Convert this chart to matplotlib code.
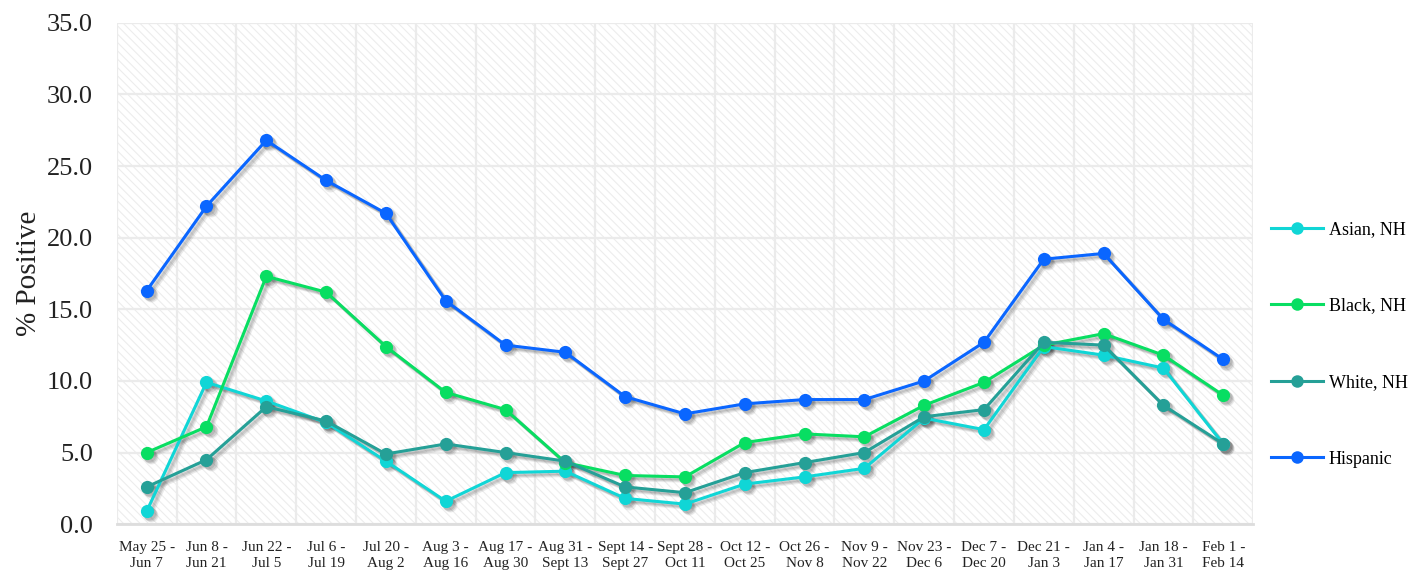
import matplotlib
matplotlib.use("Agg")
import matplotlib.pyplot as plt
import matplotlib.transforms as mtransforms
from matplotlib.patches import Rectangle
import numpy as np

periods = ['May 25 -\nJun 7', 'Jun 8 -\nJun 21', 'Jun 22 -\nJul 5', 'Jul 6 -\nJul 19',
           'Jul 20 -\nAug 2', 'Aug 3 -\nAug 16', 'Aug 17 -\nAug 30', 'Aug 31 -\nSept 13',
           'Sept 14 -\nSept 27', 'Sept 28 -\nOct 11', 'Oct 12 -\nOct 25', 'Oct 26 -\nNov 8',
           'Nov 9 -\nNov 22', 'Nov 23 -\nDec 6', 'Dec 7 -\nDec 20', 'Dec 21 -\nJan 3',
           'Jan 4 -\nJan 17', 'Jan 18 -\nJan 31', 'Feb 1 -\nFeb 14']

asian = [0.9, 9.9, 8.6, 7.1, 4.4, 1.6, 3.6, 3.7, 1.8, 1.4, 2.8, 3.3, 3.9,
         7.4, 6.6, 12.4, 11.8, 10.9, 5.6]
black = [5.0, 6.8, 17.3, 16.2, 12.4, 9.2, 8.0, 4.3, 3.4, 3.3, 5.7, 6.3, 6.1,
         8.3, 9.9, 12.5, 13.3, 11.8, 9.0]
white = [2.6, 4.5, 8.2, 7.2, 4.9, 5.6, 5.0, 4.4, 2.6, 2.2, 3.6, 4.3, 5.0,
         7.5, 8.0, 12.7, 12.5, 8.3, 5.6]
hispanic = [16.3, 22.2, 26.8, 24.0, 21.7, 15.6, 12.5, 12.0, 8.9, 7.7, 8.4, 8.7, 8.7,
            10.0, 12.7, 18.5, 18.9, 14.3, 11.5]

series = [('Asian, NH', asian, '#10D6D6'),
          ('Black, NH', black, '#08DE62'),
          ('White, NH', white, '#25A097'),
          ('Hispanic', hispanic, '#0A66FF')]

plt.rcParams['font.family'] = ['Liberation Serif', 'DejaVu Serif']
plt.rcParams['hatch.linewidth'] = 0.8

fig = plt.figure(figsize=(14.24, 5.71), dpi=100)
ax = fig.add_axes([0.082, 0.082, 0.798, 0.878])
ax.patch.set_facecolor('white')

# striped background
bg = Rectangle((0, 0), 1, 1, transform=ax.transAxes, facecolor='white',
               edgecolor='#EDEDED', hatch='\\\\\\\\', lw=0, zorder=0)
ax.add_patch(bg)

x = np.arange(len(periods))
handles = []
for name, vals, color in series:
    # soft drop shadow
    for off, a in [(3.0, 0.10), (2.2, 0.14), (1.4, 0.14)]:
        tr = mtransforms.offset_copy(ax.transData, fig=fig, x=off, y=-off, units='points')
        ax.plot(x, vals, color='#333333', alpha=a, lw=2.4, marker='o', ms=10,
                markeredgewidth=0, transform=tr, zorder=2)
    ln, = ax.plot(x, vals, color=color, lw=2.2, marker='o', ms=9.5,
                  markeredgewidth=0, label=name, zorder=3)
    handles.append(ln)

ax.set_xlim(-0.5, len(periods) - 0.5)
ax.set_ylim(0, 35)
yt = np.arange(0, 35.1, 5)
ax.set_yticks(yt)
ax.set_yticklabels(['%.1f' % v for v in yt], fontsize=19, color='#222222')
ax.set_xticks(x)
ax.set_xticklabels(periods, fontsize=11, color='#222222', linespacing=1.3)
ax.set_xticks(np.arange(-0.5, len(periods), 1), minor=True)
ax.tick_params(axis='both', which='both', length=0)
ax.tick_params(axis='x', pad=12)
ax.tick_params(axis='y', pad=17)
ax.grid(True, axis='y', color='#EBEBEB', lw=1.6)
ax.grid(True, axis='x', which='minor', color='#EBEBEB', lw=1.6)
ax.grid(False, axis='x', which='major')
ax.set_axisbelow(True)
for s in ['top', 'right', 'left']:
    ax.spines[s].set_visible(False)
ax.spines['bottom'].set_color('#DDDDDD')
ax.spines['bottom'].set_linewidth(2)

ax.set_ylabel('% Positive', fontsize=21, color='#222222')
ax.yaxis.set_label_coords(-0.066, 0.5)

leg = fig.legend(handles=handles, loc='center left', bbox_to_anchor=(0.881, 0.397),
                 frameon=False, fontsize=13, labelspacing=3.3, handlelength=2.9,
                 handletextpad=0.3)
for h in leg.legend_handles:
    h.set_markersize(9)

fig.savefig('out.png', dpi=100)
